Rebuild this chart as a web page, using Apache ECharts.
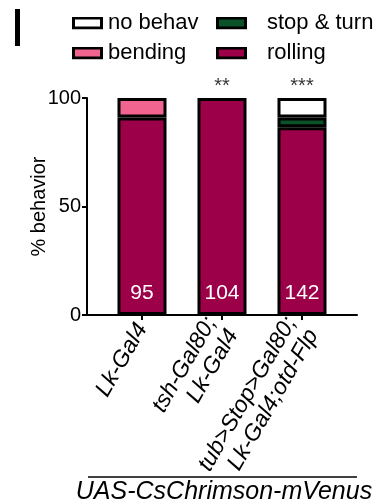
<!DOCTYPE html>
<html>
<head>
<meta charset="utf-8">
<script src="https://cdn.jsdelivr.net/npm/echarts@6/dist/echarts.min.js"></script>
<style>
  html, body { margin: 0; padding: 0; background: #fff; }
  #main { width: 385px; height: 504px; }
</style>
</head>
<body>
<div id="main"></div>
<script>
// genotypes (x axis)
var genotypes = ['Lk-Gal4', 'tsh-Gal80;\nLk-Gal4', 'tub>Stop>Gal80;\nLk-Gal4;otd-Flp'];
// % behavior per genotype ('-' = category absent)
var rolling = [91, 100, 86.5];
var stopTurn = ['-', '-', 4.5];
var bending = [9, '-', '-'];
var noBehav = ['-', '-', 9];
// n larvae and significance
var nCounts = ['95', '104', '142'];
var signif = ['', '**', '***'];

var FONT = 'Liberation Sans, Arial, sans-serif';
var colors = {
  'rolling': '#9b0049',
  'stop & turn': '#0b5229',
  'bending': '#f0648f',
  'no behav': '#ffffff'
};

var chart = echarts.init(document.getElementById('main'), null, { renderer: 'canvas' });

// boxed legend swatch (black frame) as an svg image
function boxIcon(color) {
  var svg = '<svg xmlns="http://www.w3.org/2000/svg" width="31" height="13">' +
    '<rect x="1.5" y="1.5" width="28" height="10" fill="' + color +
    '" stroke="#000" stroke-width="3"/></svg>';
  return 'image://data:image/svg+xml;charset=utf-8,' + encodeURIComponent(svg);
}

function barSeries(name, arr) {
  return {
    name: name,
    type: 'bar',
    stack: 'all',
    xAxisIndex: 1,
    yAxisIndex: 1,
    barWidth: 49,
    data: arr,
    itemStyle: { color: colors[name], borderColor: '#000', borderWidth: 3 },
    emphasis: { disabled: true }
  };
}

var sRolling = barSeries('rolling', rolling);
sRolling.label = {
  show: true,
  position: 'insideBottom',
  distance: 11,
  color: '#fff',
  fontSize: 21,
  fontFamily: FONT,
  formatter: function (p) { return nCounts[p.dataIndex]; }
};
var sStop = barSeries('stop & turn', stopTurn);
var sBend = barSeries('bending', bending);
var sNo = barSeries('no behav', noBehav);

// invisible points at 100% carrying the significance stars
var sStars = {
  type: 'scatter',
  xAxisIndex: 1,
  yAxisIndex: 1,
  symbolSize: 0,
  data: [100, 100, 100],
  silent: true,
  label: {
    show: true,
    position: 'top',
    distance: 2,
    color: '#000',
    fontSize: 20,
    fontFamily: FONT,
    formatter: function (p) { return signif[p.dataIndex]; }
  }
};

var legendText = { fontSize: 22, fontFamily: FONT, color: '#000', lineHeight: 22 };

function legendData(names) {
  return names.map(function (n) { return { name: n, icon: boxIcon(colors[n]) }; });
}

var option = {
  backgroundColor: '#fff',
  animation: false,
  grid: [
    { left: 87, right: 28, top: 98, bottom: 189 },
    { left: 102, right: 43, top: 98, bottom: 189 }
  ],
  legend: [
    {
      data: legendData(['no behav', 'bending']),
      orient: 'vertical',
      left: 67, top: 7,
      itemWidth: 31, itemHeight: 13, itemGap: 8,
      textStyle: legendText,
      selectedMode: false
    },
    {
      data: legendData(['stop & turn', 'rolling']),
      orient: 'vertical',
      left: 211, top: 7,
      itemWidth: 31, itemHeight: 13, itemGap: 8,
      textStyle: Object.assign({ padding: [0, 0, 0, 15] }, legendText),
      selectedMode: false
    }
  ],
  xAxis: [
    {
      gridIndex: 0,
      type: 'value',
      min: 0, max: 1,
      splitLine: { show: false },
      axisLine: { lineStyle: { color: '#000', width: 2 } },
      axisTick: { show: false },
      axisLabel: { show: false }
    },
    {
      gridIndex: 1,
      type: 'category',
      data: genotypes,
      axisLine: { show: false },
      axisTick: { show: true, alignWithLabel: true, length: 5, lineStyle: { color: '#000', width: 2 } },
      axisLabel: {
        interval: 0,
        rotate: 60,
        margin: 10,
        padding: [12, 0, 0, 0],
        fontSize: 23,
        lineHeight: 25,
        verticalAlign: 'middle',
        fontStyle: 'italic',
        fontFamily: FONT,
        color: '#000'
      }
    }
  ],
  yAxis: [
    {
      gridIndex: 0,
      type: 'value',
      min: 0,
      max: 100,
      interval: 50,
      name: '% behavior',
      nameLocation: 'middle',
      nameRotate: 90,
      nameGap: 38,
      nameMoveOverlap: false,
      nameTextStyle: { fontSize: 20, fontFamily: FONT, color: '#000' },
      splitLine: { show: false },
      axisLine: { show: true, lineStyle: { color: '#000', width: 2 } },
      axisTick: { show: true, length: 5, lineStyle: { color: '#000', width: 2 } },
      axisLabel: { fontSize: 20, fontFamily: FONT, color: '#000', margin: 6 }
    },
    {
      gridIndex: 1,
      type: 'value',
      min: 0,
      max: 100,
      show: false
    }
  ],
  graphic: [
    {
      type: 'text', x: 10, y: 31,
      style: { text: 'I', fontSize: 54, fontFamily: FONT, fill: '#000', verticalAlign: 'middle' }
    },
    {
      type: 'line',
      shape: { x1: 88, y1: 477, x2: 357, y2: 477 },
      style: { stroke: '#000', lineWidth: 1.5 }
    },
    {
      type: 'text', x: 224, y: 492,
      style: {
        text: 'UAS-CsChrimson-mVenus', fontSize: 25, fontStyle: 'italic',
        fontFamily: FONT, fill: '#000', align: 'center', verticalAlign: 'middle'
      }
    }
  ],
  series: [sRolling, sStop, sBend, sNo, sStars]
};

chart.setOption(option);
</script>
</body>
</html>
